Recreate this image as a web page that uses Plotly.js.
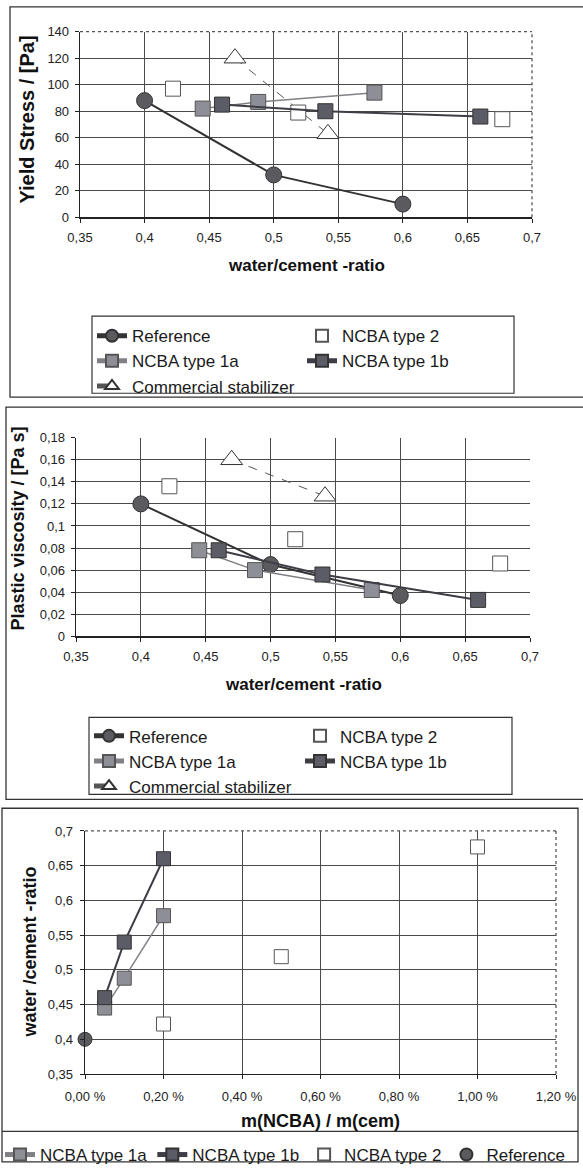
<!DOCTYPE html>
<html>
<head>
<meta charset="utf-8">
<script src="https://cdn.plot.ly/plotly-3.0.1.min.js"></script>
<style>
html,body{margin:0;padding:0;background:#fff;}
#chart{width:583px;height:1173px;}
</style>
</head>
<body>
<div id="chart"></div>
<script>
// ---------- DATA ----------
// water/cement ratios of the mixes
const refWC  = [0.40, 0.50, 0.60];
const t1aWC  = [0.445, 0.488, 0.578];
const t1bWC  = [0.460, 0.540, 0.660];
const t2WC   = [0.422, 0.519, 0.677];
const comWC  = [0.470, 0.542];
// yield stress [Pa]
const refYield = [88, 32, 10];
const t1aYield = [82, 87, 94];
const t1bYield = [85, 80, 76];
const t2Yield  = [97, 79, 74];
const comYield = [120, 63];
// plastic viscosity [Pa s]
const refVisc = [0.120, 0.065, 0.037];
const t1aVisc = [0.078, 0.060, 0.042];
const t1bVisc = [0.078, 0.056, 0.033];
const t2Visc  = [0.136, 0.088, 0.066];
const comVisc = [0.160, 0.127];
// NCBA dosage m(NCBA)/m(cem) in %
const refDose = [0.00];
const refDoseWC = [0.40];
const t1aDose = [0.05, 0.10, 0.20];
const t1bDose = [0.05, 0.10, 0.20];
const t2Dose  = [0.20, 0.50, 1.00];

const names = {ref:'Reference', t1a:'NCBA type 1a', t1b:'NCBA type 1b', t2:'NCBA type 2', com:'Commercial stabilizer'};

// ---------- GEOMETRY HELPERS ----------
const W = 583, H = 1173;
const fx = px => px / W;
const fy = py => 1 - py / H;

const FONT = 'Liberation Sans, Arial, Helvetica, sans-serif';

// ---------- STYLES ----------
const sRef = {mode:'lines+markers', line:{color:'#333', width:2},
  marker:{symbol:'circle', size:16, color:'#5b5b5f', line:{color:'#333', width:1}}};
const s1a = {mode:'lines+markers', line:{color:'#808086', width:1.5},
  marker:{symbol:'square', size:15, color:'#8e8e96', line:{color:'#555', width:1}}};
const s1b = {mode:'lines+markers', line:{color:'#3d3d46', width:2},
  marker:{symbol:'square', size:15, color:'#5c5c66', line:{color:'#333', width:1}}};
const s2 = {mode:'markers',
  marker:{symbol:'square', size:15, color:'#ffffff', line:{color:'#555', width:1}}};
const sCom = {mode:'lines+markers', line:{color:'#555', width:1, dash:'dash'},
  marker:{symbol:'triangle-up', size:19, color:'#ffffff', line:{color:'#333', width:1}}};

function tr(style, x, y, name, xa, ya, legend, extra) {
  return Object.assign({type:'scatter', x:x, y:y, name:name, xaxis:xa, yaxis:ya,
    legend:legend, showlegend:true, cliponaxis:false}, JSON.parse(JSON.stringify(style)), extra||{});
}

const data = [
  // chart 1
  tr(sRef, refWC, refYield, names.ref, 'x', 'y', 'legend'),
  tr(s1a, t1aWC, t1aYield, names.t1a, 'x', 'y', 'legend'),
  tr(sCom, comWC, comYield, names.com, 'x', 'y', 'legend'),
  tr(s2, t2WC, t2Yield, names.t2, 'x', 'y', 'legend2'),
  tr(s1b, t1bWC, t1bYield, names.t1b, 'x', 'y', 'legend2'),
  // chart 2
  tr(sRef, refWC, refVisc, names.ref, 'x2', 'y2', 'legend3'),
  tr(s1a, t1aWC, t1aVisc, names.t1a, 'x2', 'y2', 'legend3'),
  tr(sCom, comWC, comVisc, names.com, 'x2', 'y2', 'legend3'),
  tr(s2, t2WC, t2Visc, names.t2, 'x2', 'y2', 'legend4'),
  tr(s1b, t1bWC, t1bVisc, names.t1b, 'x2', 'y2', 'legend4'),
  // chart 3
  tr(s1a, t1aDose, t1aWC, names.t1a, 'x3', 'y3', 'legend5', {marker:{symbol:'square', size:14, color:'#8e8e96', line:{color:'#555', width:1}}}),
  tr(s1b, t1bDose, t1bWC, names.t1b, 'x3', 'y3', 'legend5', {marker:{symbol:'square', size:14, color:'#5c5c66', line:{color:'#333', width:1}}}),
  tr(s2, t2Dose, t2WC, names.t2, 'x3', 'y3', 'legend5', {marker:{symbol:'square', size:14, color:'#ffffff', line:{color:'#555', width:1}}}),
  tr({mode:'markers', marker:{symbol:'circle', size:14, color:'#5b5b5f', line:{color:'#333', width:1}}},
     refDose, refDoseWC, names.ref, 'x3', 'y3', 'legend5')
];

// ---------- AXES ----------
function axis(domain, range, dtick, anchor, extra) {
  return Object.assign({
    domain: domain, range: range, dtick: dtick, tick0: range[0], anchor: anchor,
    showgrid: true, gridcolor: '#4a4a4a', gridwidth: 1,
    showline: true, linecolor: '#222', linewidth: 1.3, mirror: false,
    ticks: 'outside', ticklen: 4, tickcolor: '#222', tickwidth: 1,
    zeroline: false, fixedrange: true,
    tickfont: {family: FONT, size: 13, color: '#222'}
  }, extra || {});
}

const legBase = {xanchor:'left', yanchor:'top', bgcolor:'rgba(0,0,0,0)', borderwidth:0,
  font:{family:FONT, size:17, color:'#1a1a1a'}, itemsizing:'constant', traceorder:'normal',
  itemclick:false, itemdoubleclick:false};

function frame(x0, y0, x1, y1, w) {
  return {type:'rect', xref:'paper', yref:'paper', x0:fx(x0), x1:fx(x1), y0:fy(y1), y1:fy(y0),
    line:{color:'#333', width:w||1.3}, fillcolor:'rgba(0,0,0,0)', layer:'above'};
}
function dotted(xa, ya) {
  return [
    {type:'line', xref:xa+' domain', yref:ya+' domain', x0:0, x1:1, y0:1, y1:1,
     line:{color:'#555', width:1.3, dash:'dot'}},
    {type:'line', xref:xa+' domain', yref:ya+' domain', x0:1, x1:1, y0:0, y1:1,
     line:{color:'#555', width:1.3, dash:'dot'}}
  ];
}
function ann(text, xpx, ypx, size, angle) {
  return {text:text, xref:'paper', yref:'paper', x:fx(xpx), y:fy(ypx), xanchor:'center', yanchor:'middle',
    showarrow:false, textangle:angle||0, font:{family:FONT, size:size, color:'#111', weight:'bold'}};
}

const layout = {
  width: W, height: H,
  margin: {l:0, r:0, t:0, b:0},
  paper_bgcolor: '#fff', plot_bgcolor: '#fff',
  separators: ', ',
  font: {family: FONT, color:'#222'},
  showlegend: true,
  xaxis:  axis([fx(80), fx(532)], [0.35, 0.7], 0.05, 'y', {ticklabelstandoff: 4}),
  yaxis:  axis([fy(220), fy(32)], [0, 140], 20, 'x', {ticklabelstandoff: 3}),
  xaxis2: axis([fx(76), fx(530)], [0.35, 0.7], 0.05, 'y2', {ticklabelstandoff: 4}),
  yaxis2: axis([fy(644), fy(443)], [0, 0.18], 0.02, 'x2', {ticklabelstandoff: 3}),
  xaxis3: axis([fx(85), fx(556)], [0, 1.2], 0.2, 'y3', {tickformat:'.2f', ticksuffix:' %', ticklabelstandoff: 6}),
  yaxis3: axis([fy(1087), fy(841)], [0.35, 0.7], 0.05, 'x3', {ticklabelstandoff: 4}),
  legend:  Object.assign({}, legBase, {x:fx(92),  y:fy(322)}),
  legend2: Object.assign({}, legBase, {x:fx(302), y:fy(322)}),
  legend3: Object.assign({}, legBase, {x:fx(89),  y:fy(727)}),
  legend4: Object.assign({}, legBase, {x:fx(300), y:fy(727)}),
  legend5: Object.assign({}, legBase, {x:fx(0), y:fy(1151), orientation:'h'}),
  annotations: [
    ann('water/cement -ratio', 306, 269, 17, 0),
    ann('Yield Stress / [Pa]', 27, 121, 20, -90),
    ann('water/cement -ratio', 303, 693, 17, 0),
    ann('Plastic viscosity / [Pa s]', 18, 535, 18, -90),
    ann('m(NCBA) / m(cem)', 320, 1135, 18, 0),
    ann('water /cement -ratio', 30, 964, 18, -90)
  ],
  shapes: [
    frame(10, 7, 590, 402),
    frame(92, 320, 514, 398, 1.2),
    frame(6, 412, 590, 809),
    frame(89, 726, 512, 804, 1.2),
    frame(2, 818, 578, 1176),
    {type:'line', xref:'paper', yref:'paper', x0:fx(2), x1:fx(578), y0:fy(1145), y1:fy(1145),
     line:{color:'#333', width:1.3}}
  ].concat(dotted('x','y'), dotted('x3','y3'))
};

Plotly.newPlot('chart', data, layout, {displayModeBar:false, staticPlot:true});
</script>
</body>
</html>
